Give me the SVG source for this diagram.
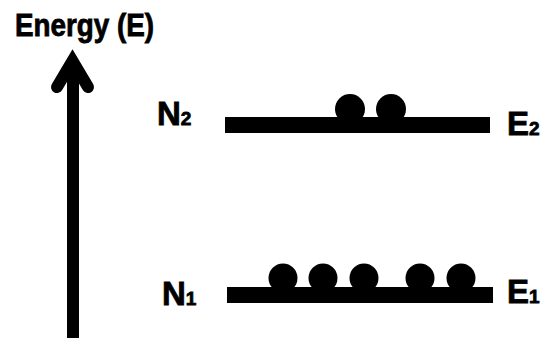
<svg xmlns="http://www.w3.org/2000/svg" width="549" height="338" viewBox="0 0 549 338">
  <style>
    .lbl { font-family: "Liberation Sans", Arial, sans-serif; font-weight: bold; fill: #000; stroke: #000; stroke-width: 0.8; }
    .main { font-size: 33px; }
    .sub { font-size: 19px; }
    .bar { fill: #000; }
    .atom { fill: #000; }
  </style>
  <rect width="549" height="338" fill="#fff"/>

  <!-- Energy axis -->
  <g id="axis">
    <line x1="73" y1="62" x2="73" y2="338" stroke="#000" stroke-width="12"/>
    <polyline points="57,87 72.5,61 88,87" fill="none" stroke="#000" stroke-width="12" stroke-linecap="round" stroke-linejoin="miter" stroke-miterlimit="10"/>
    <text class="lbl" x="15" y="36" font-size="31" textLength="139" lengthAdjust="spacingAndGlyphs">Energy (E)</text>
  </g>

  <!-- Upper level E2 with N2 population -->
  <g id="level-upper">
    <rect class="bar" x="225" y="117" width="265" height="16"/>
    <circle class="atom" cx="350" cy="109" r="15"/>
    <circle class="atom" cx="391" cy="109" r="15"/>
    <text class="lbl main" x="157" y="125">N<tspan class="sub">2</tspan></text>
    <text class="lbl main" x="507" y="135">E<tspan class="sub">2</tspan></text>
  </g>

  <!-- Lower level E1 with N1 population -->
  <g id="level-lower">
    <rect class="bar" x="227" y="287" width="266" height="16"/>
    <circle class="atom" cx="283" cy="278" r="14.5"/>
    <circle class="atom" cx="323" cy="278" r="14.5"/>
    <circle class="atom" cx="364" cy="278" r="14.5"/>
    <circle class="atom" cx="420" cy="278" r="14.5"/>
    <circle class="atom" cx="461" cy="278" r="14.5"/>
    <text class="lbl main" x="162" y="305">N<tspan class="sub">1</tspan></text>
    <text class="lbl main" x="507" y="303">E<tspan class="sub">1</tspan></text>
  </g>
</svg>
